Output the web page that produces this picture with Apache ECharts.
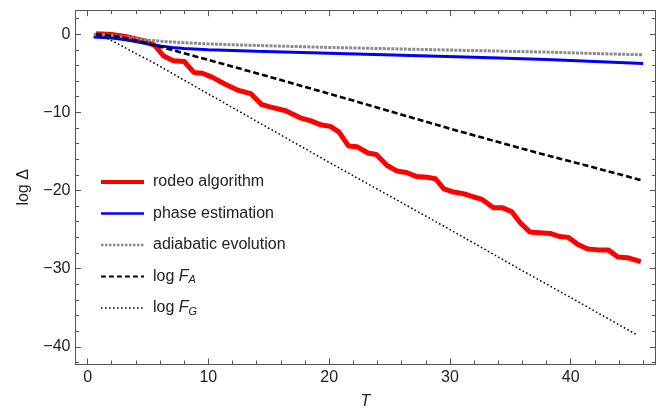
<!DOCTYPE html>
<html>
<head>
<meta charset="utf-8">
<script src="https://cdn.jsdelivr.net/npm/echarts@6/dist/echarts.min.js"></script>
<style>
  html, body { margin: 0; padding: 0; background: #fff; }
  #chart { width: 664px; height: 415px; }
</style>
</head>
<body>
<div id="chart"></div>
<script>
// Error decay log Δ versus evolution time T
const rodeoT = [0.7, 2, 3.1, 4, 4.8, 5.6, 6.3, 7.1, 8.0, 8.8, 9.5, 10.3, 11.4, 12.5, 13.5, 14.4, 15.1, 16.4, 17.6, 18.5, 19.3, 20.1, 20.8, 21.6, 22.3, 23.2, 23.9, 24.8, 25.6, 26.4, 27.2, 28.1, 28.8, 29.5, 30.3, 31.1, 31.9, 32.6, 33.6, 34.3, 35.1, 35.8, 36.6, 37.4, 38.3, 39.1, 39.8, 40.6, 41.4, 42.3, 43.1, 43.9, 44.7, 45.8];
const rodeoLog = [0.05, -0.05, -0.3, -0.6, -0.9, -1.5, -2.8, -3.4, -3.5, -4.9, -5.0, -5.5, -6.4, -7.2, -7.6, -9.0, -9.3, -9.8, -10.7, -11.1, -11.6, -11.8, -12.5, -14.3, -14.4, -15.2, -15.4, -16.8, -17.5, -17.7, -18.2, -18.3, -18.5, -19.8, -20.2, -20.4, -20.8, -21.1, -22.2, -22.2, -22.7, -24.1, -25.3, -25.4, -25.5, -25.9, -26.0, -26.9, -27.5, -27.6, -27.6, -28.5, -28.6, -29.1];

const phaseT = [0.5, 2, 3, 4, 5, 6, 7, 8, 10, 14, 20, 26, 32, 38, 42, 46];
const phaseLog = [-0.35, -0.5, -0.7, -0.95, -1.25, -1.5, -1.7, -1.85, -2.0, -2.2, -2.45, -2.7, -2.95, -3.25, -3.5, -3.75];

const adiabaticT = [0.5, 2, 3, 4, 5, 6, 8, 10, 14, 20, 26, 32, 38, 46];
const adiabaticLog = [0, -0.15, -0.35, -0.55, -0.75, -0.9, -1.1, -1.25, -1.45, -1.7, -1.9, -2.1, -2.3, -2.65];

const fAT = [0.7, 2, 3, 4, 5, 6, 8, 10, 14, 18, 22, 26, 30, 34, 38, 42, 46];
const fALog = [0, -0.2, -0.45, -0.8, -1.2, -1.6, -2.45, -3.3, -5.0, -6.75, -8.5, -10.3, -12.1, -13.8, -15.5, -17.1, -18.75];

const fGT = [0.7, 1.5, 2.6, 4, 5.3, 8, 12, 16, 20, 25, 30, 35, 40, 45.5];
const fGLog = [0, -0.45, -1.3, -2.5, -3.5, -5.9, -9.4, -12.9, -16.4, -20.7, -25.0, -29.4, -33.7, -38.5];

const seriesNames = ['rodeo algorithm', 'phase estimation', 'adiabatic evolution', 'log F_A', 'log F_G'];
const seriesColors = ['#ff0000', '#0000ff', '#8c8c8c', '#000000', '#000000'];

const xMajorTicks = [0, 10, 20, 30, 40];
const xMinorTicks = [2, 4, 6, 8, 12, 14, 16, 18, 22, 24, 26, 28, 32, 34, 36, 38, 42, 44, 46];
const yMajorTicks = [0, -10, -20, -30, -40];
const yMinorTicks = [2, -2, -4, -6, -8, -12, -14, -16, -18, -22, -24, -26, -28, -32, -34, -36, -38, -42];

const X_MIN = -1, X_MAX = 47, Y_MIN = -42.2, Y_MAX = 3;

const zip = (xs, ys) => xs.map((x, i) => [x, ys[i]]);

const FONT = '"Liberation Sans", Arial, sans-serif';
const FONT_SIZE = 16;
const AXIS_COLOR = '#555';
const TEXT_COLOR = '#222';
const minus = v => String(v).replace('-', '\u2212');

function xAxisDef(position, ticks, len, showLabel) {
  return {
    type: 'value', min: X_MIN, max: X_MAX, position: position,
    axisLine: { show: true, onZero: false, lineStyle: { color: AXIS_COLOR, width: 1 } },
    axisTick: { show: true, inside: true, length: len, customValues: ticks, lineStyle: { color: AXIS_COLOR, width: 1 } },
    axisLabel: { show: showLabel, customValues: ticks, color: TEXT_COLOR, fontSize: FONT_SIZE, fontFamily: FONT, margin: 6, formatter: minus },
    splitLine: { show: false }
  };
}
function yAxisDef(position, ticks, len, showLabel) {
  return {
    type: 'value', min: Y_MIN, max: Y_MAX, position: position,
    axisLine: { show: true, onZero: false, lineStyle: { color: AXIS_COLOR, width: 1 } },
    axisTick: { show: true, inside: true, length: len, customValues: ticks, lineStyle: { color: AXIS_COLOR, width: 1 } },
    axisLabel: { show: showLabel, customValues: ticks, color: TEXT_COLOR, fontSize: FONT_SIZE, fontFamily: FONT, margin: 5, formatter: minus },
    splitLine: { show: false }
  };
}

const xBottom = xAxisDef('bottom', xMajorTicks, 5.5, true);
xBottom.name = 'T';
xBottom.nameLocation = 'middle';
xBottom.nameGap = 30;
xBottom.nameTextStyle = { fontSize: FONT_SIZE, fontStyle: 'italic', fontFamily: FONT, color: TEXT_COLOR };

const yLeft = yAxisDef('left', yMajorTicks, 5.5, true);
yLeft.name = 'log \u0394';
yLeft.nameLocation = 'middle';
yLeft.nameGap = 44;
yLeft.nameTextStyle = { fontSize: FONT_SIZE, fontFamily: FONT, color: TEXT_COLOR };

const chart = echarts.init(document.getElementById('chart'), null, { renderer: 'canvas' });

const lineSeries = (idx, data, style, z) => ({
  name: seriesNames[idx], type: 'line', data: data, xAxisIndex: 0, yAxisIndex: 0,
  color: seriesColors[idx],
  showSymbol: false, symbol: 'none', smooth: false, animation: false, z: z,
  lineStyle: Object.assign({ color: seriesColors[idx] }, style)
});

const legendItem = (idx, style) => ({
  name: seriesNames[idx],
  itemStyle: { opacity: 0 },
  lineStyle: Object.assign({ color: seriesColors[idx] }, style)
});

chart.setOption({
  animation: false,
  backgroundColor: '#fff',
  grid: { left: 75.5, right: 8.7, top: 10.7, bottom: 46, containLabel: false },
  xAxis: [
    xBottom,
    xAxisDef('bottom', xMinorTicks, 3.5, false),
    xAxisDef('top', xMajorTicks, 5.5, false),
    xAxisDef('top', xMinorTicks, 3.5, false)
  ],
  yAxis: [
    yLeft,
    yAxisDef('left', yMinorTicks, 3.5, false),
    yAxisDef('right', yMajorTicks, 5.5, false),
    yAxisDef('right', yMinorTicks, 3.5, false)
  ],
  legend: {
    orient: 'vertical', left: 94, top: 168,
    itemWidth: 43, itemHeight: 14, itemGap: 13.5,
    textStyle: { fontSize: FONT_SIZE, lineHeight: 18, fontFamily: FONT, color: TEXT_COLOR, padding: [0, 0, 0, 4],
      rich: {
        r: { fontSize: FONT_SIZE, lineHeight: 18, fontFamily: FONT, color: TEXT_COLOR },
        i: { fontSize: FONT_SIZE, lineHeight: 18, fontFamily: FONT, fontStyle: 'italic', color: TEXT_COLOR },
        s: { fontSize: 11, lineHeight: 11, fontFamily: FONT, fontStyle: 'italic', color: TEXT_COLOR, padding: [7, 0, 0, 0] }
      }
    },
    formatter: name => {
      const m = name.match(/^log F_(\w)$/);
      return m ? '{r|log }{i|F}{s|' + m[1] + '}' : name;
    },
    data: [
      legendItem(0, { width: 4, type: 'solid' }),
      legendItem(1, { width: 2.5, type: 'solid' }),
      legendItem(2, { width: 2.5, type: [2.5, 1.5] }),
      legendItem(3, { width: 2, type: [5, 3] }),
      legendItem(4, { width: 1.3, type: [1.5, 2.5] })
    ]
  },
  series: [
    lineSeries(0, zip(rodeoT, rodeoLog), { width: 5, cap: 'butt', join: 'round' }, 2),
    lineSeries(1, zip(phaseT, phaseLog), { width: 3 }, 3),
    lineSeries(2, zip(adiabaticT, adiabaticLog), { width: 3, type: [3, 1.2] }, 4),
    lineSeries(3, zip(fAT, fALog), { width: 2.6, type: [6, 3] }, 5),
    lineSeries(4, zip(fGT, fGLog), { width: 1.5, type: [1.6, 2.4] }, 6)
  ]
});
</script>
</body>
</html>
